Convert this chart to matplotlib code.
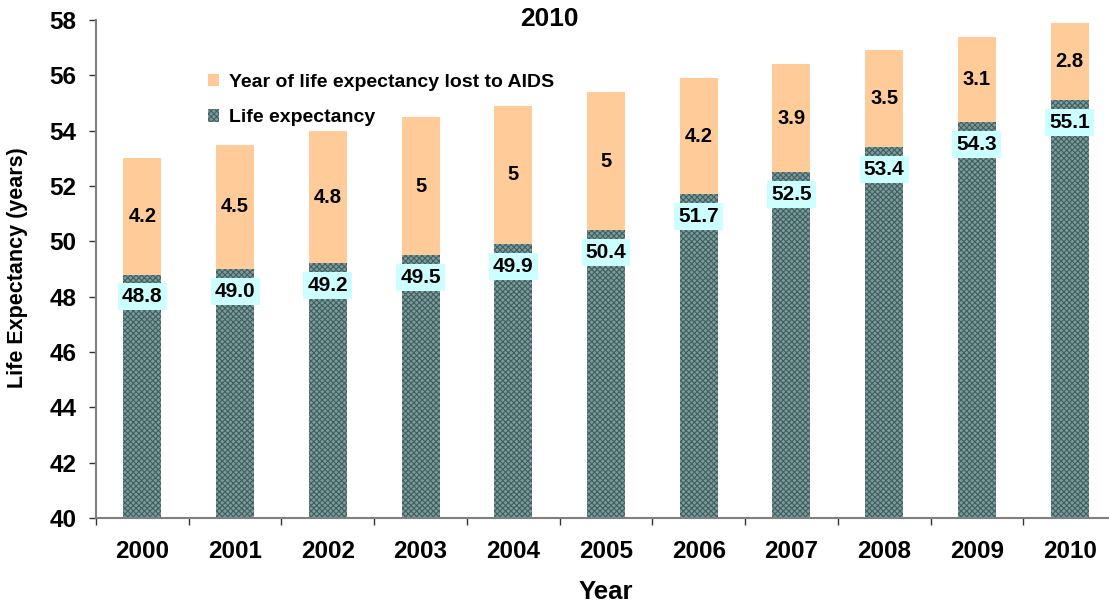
import matplotlib
matplotlib.use("Agg")
import matplotlib.pyplot as plt
import numpy as np
from matplotlib.patches import Patch

plt.rcParams["font.family"] = ["Liberation Sans", "DejaVu Sans"]
plt.rcParams["font.weight"] = "bold"
plt.rcParams["hatch.linewidth"] = 0.8

# data
years = ["2000", "2001", "2002", "2003", "2004", "2005",
         "2006", "2007", "2008", "2009", "2010"]
life_exp = [48.8, 49.0, 49.2, 49.5, 49.9, 50.4, 51.7, 52.5, 53.4, 54.3, 55.1]
lost_aids = [4.2, 4.5, 4.8, 5, 5, 5, 4.2, 3.9, 3.5, 3.1, 2.8]
lost_labels = ["4.2", "4.5", "4.8", "5", "5", "5", "4.2", "3.9", "3.5", "3.1", "2.8"]

ORANGE = "#FFCC99"
TEAL = "#7A9C9C"
HATCH = "#425E5E"
LABEL_BG = "#CCFFFF"
GREY = "#808080"

W, H = 1109, 604
fig = plt.figure(figsize=(W / 100, H / 100), dpi=100)
ax = fig.add_axes([96 / W, (H - 518) / H, 1020 / W, 498 / H])

x = np.arange(len(years))
base = 40
life_h = [v - base for v in life_exp]
ax.bar(x, life_h, bottom=base, width=0.41, color=TEAL,
       edgecolor=HATCH, linewidth=0, hatch="xxxxxx", zorder=2)
ax.bar(x, lost_aids, bottom=life_exp, width=0.41, color=ORANGE,
       linewidth=0, zorder=2)

# life expectancy labels near the top of the dark bars
for xi, v in zip(x, life_exp):
    ax.annotate(f"{v:.1f}", (xi, v), xytext=(0, -16), textcoords="offset points",
                ha="center", va="center", fontsize=15, fontweight="bold",
                bbox=dict(boxstyle="square,pad=0.2", facecolor=LABEL_BG,
                          edgecolor="none"), zorder=4)

# years lost labels, centred in the orange segments
for xi, v, d, t in zip(x, life_exp, lost_aids, lost_labels):
    ax.text(xi, v + d / 2, t, ha="center", va="center", fontsize=14.5,
            fontweight="bold", zorder=4)

ax.set_xlim(-0.5, len(years) - 0.5)
ax.set_ylim(40, 58)
ax.set_yticks(np.arange(40, 59, 2))
ax.set_xticks(x)
ax.set_xticklabels(years)
ax.set_xticks(np.arange(-0.5, len(years), 1.0), minor=True)

for s in ("top", "right"):
    ax.spines[s].set_visible(False)
for s in ("left", "bottom"):
    ax.spines[s].set_color(GREY)
    ax.spines[s].set_linewidth(1.5)

ax.tick_params(axis="y", direction="out", length=5, width=1, color="#333333",
               labelsize=17.5, pad=9)
ax.tick_params(axis="x", which="major", length=0, labelsize=17.5, pad=16)
ax.tick_params(axis="x", which="minor", direction="out", length=5, width=1,
               color="#333333")
for lab in ax.get_xticklabels() + ax.get_yticklabels():
    lab.set_fontweight("bold")

fig.text(18 / W, 1 - 268 / H, "Life Expectancy (years)", rotation=90,
         ha="center", va="center", fontsize=15.5, fontweight="bold")
fig.text(606 / W, 1 - 592 / H, "Year", ha="center", va="center",
         fontsize=18.5, fontweight="bold")
fig.text(549 / W, 1 - 19 / H, "2010", ha="center", va="center",
         fontsize=19, fontweight="bold")

handles = [Patch(facecolor=ORANGE, edgecolor="none"),
           Patch(facecolor=TEAL, edgecolor=HATCH, hatch="xxxxxx", linewidth=0)]
ax.legend(handles, ["Year of life expectancy lost to AIDS", "Life expectancy"],
          loc="upper left", bbox_to_anchor=(200 / W, 1 - 66 / H),
          bbox_transform=fig.transFigure, frameon=False, fontsize=14,
          handlelength=0.6, handleheight=0.6, handletextpad=0.5,
          labelspacing=0.95, borderaxespad=0)

fig.savefig("out.png", dpi=100)
